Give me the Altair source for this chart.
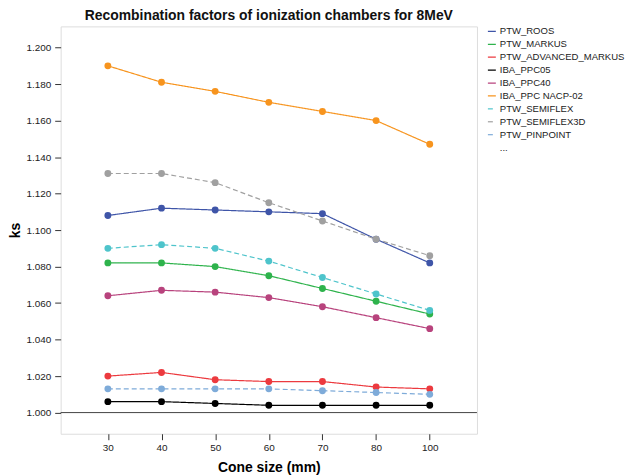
import altair as alt
import pandas as pd

cone_sizes = ["30", "40", "50", "60", "70", "80", "100"]

series_names = [
    "PTW_ROOS", "PTW_MARKUS", "PTW_ADVANCED_MARKUS", "IBA_PPC05", "IBA_PPC40",
    "IBA_PPC NACP-02", "PTW_SEMIFLEX", "PTW_SEMIFLEX3D", "PTW_PINPOINT",
]
legend_extra = "..."

ptw_roos = [1.108, 1.112, 1.111, 1.110, 1.109, 1.095, 1.082]
ptw_markus = [1.082, 1.082, 1.080, 1.075, 1.068, 1.061, 1.054]
ptw_adv_markus = [1.020, 1.022, 1.018, 1.017, 1.017, 1.014, 1.013]
iba_ppc05 = [1.006, 1.006, 1.005, 1.004, 1.004, 1.004, 1.004]
iba_ppc40 = [1.064, 1.067, 1.066, 1.063, 1.058, 1.052, 1.046]
iba_nacp02 = [1.190, 1.181, 1.176, 1.170, 1.165, 1.160, 1.147]
ptw_semiflex = [1.090, 1.092, 1.090, 1.083, 1.074, 1.065, 1.056]
ptw_semiflex3d = [1.131, 1.131, 1.126, 1.115, 1.105, 1.095, 1.086]
ptw_pinpoint = [1.013, 1.013, 1.013, 1.013, 1.012, 1.011, 1.010]

all_values = [ptw_roos, ptw_markus, ptw_adv_markus, iba_ppc05, iba_ppc40,
              iba_nacp02, ptw_semiflex, ptw_semiflex3d, ptw_pinpoint]

colors = ["#3f55a8", "#2eb34c", "#ec3a3f", "#000000", "#b8437d",
          "#f7941e", "#4ec4cb", "#a0a0a0", "#7eabd9", "transparent"]
dashes = [[1, 0], [1, 0], [1, 0], [1, 0], [1, 0],
          [1, 0], [5, 3], [5, 3], [5, 3], [1, 0]]

rows = []
for name, vals in zip(series_names, all_values):
    for c, v in zip(cone_sizes, vals):
        rows.append({"cone": c, "ks": v, "chamber": name})
df = pd.DataFrame(rows)

domain = series_names + [legend_extra]

x_enc = alt.X("cone:O", sort=cone_sizes, title="Cone size (mm)",
              scale=alt.Scale(type="point", padding=0.88),
              axis=alt.Axis(labelAngle=0, domain=False, tickSize=6, tickColor="#333",
                            labelPadding=3, titlePadding=8, labelFontSize=10,
                            labelColor="#222", titleFontSize=14, titleFontWeight="bold",
                            labelFont="Liberation Sans", titleFont="Liberation Sans"))
y_enc = alt.Y("ks:Q", title="ks",
              scale=alt.Scale(domain=[0.9884, 1.2116], nice=False, zero=False),
              axis=alt.Axis(format=".3f", values=[1.0 + 0.02 * i for i in range(11)],
                            grid=False, domain=False, tickSize=6, tickColor="#333",
                            labelPadding=4, titlePadding=3, labelFontSize=10,
                            labelColor="#222", titleFontSize=14, titleFontWeight="bold",
                            labelFont="Liberation Sans", titleFont="Liberation Sans"))

legend = alt.Legend(title=None, orient="right", offset=10, padding=0,
                    symbolType="stroke", symbolSize=64, symbolStrokeWidth=1.2,
                    labelFontSize=9.6, labelFont="Liberation Sans", labelColor="#222",
                    labelOffset=3, rowPadding=3)

color_enc = alt.Color("chamber:N", scale=alt.Scale(domain=domain, range=colors), legend=legend)
dash_enc = alt.StrokeDash("chamber:N", scale=alt.Scale(domain=domain, range=dashes), legend=legend)

lines = alt.Chart(df).mark_line(strokeWidth=1.2).encode(
    x=x_enc, y=y_enc, color=color_enc, strokeDash=dash_enc,
    detail="chamber:N")

points = alt.Chart(df).mark_point(filled=True, size=48, opacity=1).encode(
    x=x_enc, y=y_enc, color=color_enc)

rule = alt.Chart(pd.DataFrame({"y": [1.0]})).mark_rule(color="#444", strokeWidth=1).encode(
    y="y:Q")

chart = alt.layer(rule, lines, points).properties(
    width=419, height=410,
    padding={"left": 0, "top": 0, "right": 0, "bottom": 0},
    title=alt.Title("Recombination factors of ionization chambers for 8MeV",
                    fontSize=14, fontWeight="bold", font="Liberation Sans",
                    color="#111", offset=0, dy=-3, anchor="middle"),
).configure_view(fill="#f0f0f0", stroke="#555", strokeWidth=1.2
).configure(background="white")

chart.save("out.html", embed_options={"renderer": "svg", "actions": False})
